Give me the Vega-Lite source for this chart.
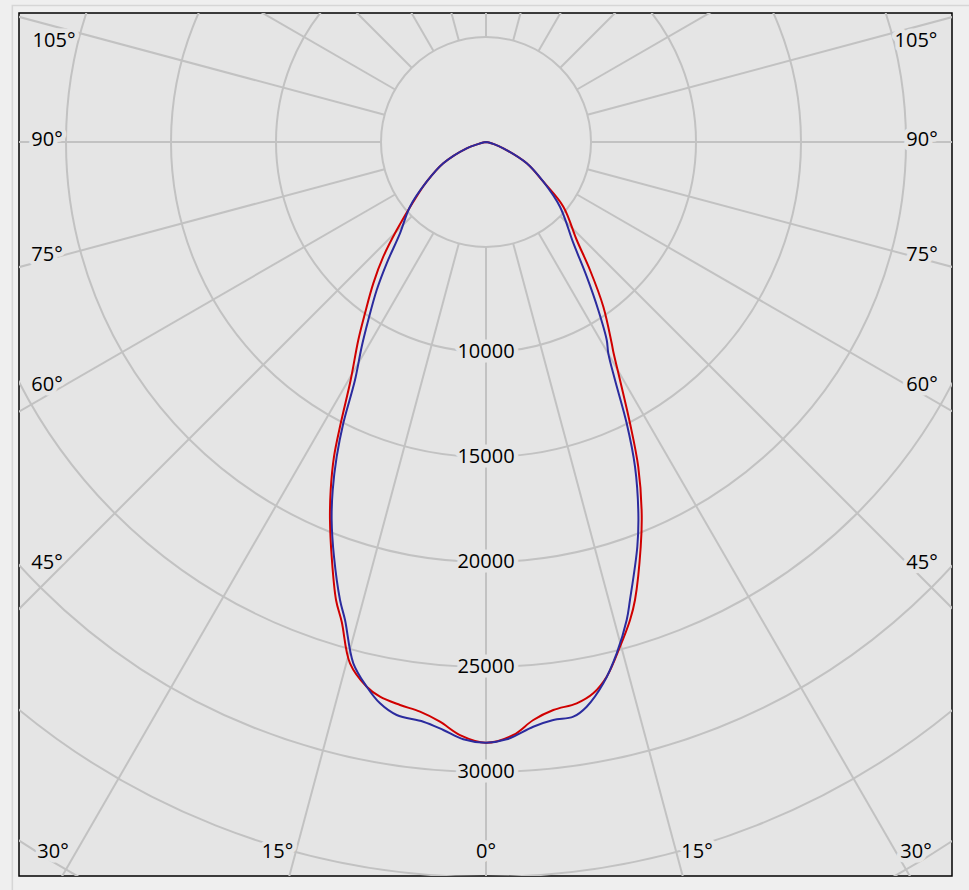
{
  "$schema": "https://vega.github.io/schema/vega-lite/v6.json",
  "width": 933,
  "height": 863,
  "autosize": {"type": "none"},
  "padding": {"left": 19, "top": 13, "right": 17, "bottom": 14},
  "background": "#efefef",
  "config": {"view": {"fill": "#e5e5e5", "stroke": "#000000", "strokeWidth": 1.5}},
  "datasets": {
    "frame": [{"fx": -22555, "fx2": 23500, "fy": 6500, "fy2": -36500}],
    "rings": [
      {"ring": 5000}, {"ring": 10000}, {"ring": 15000}, {"ring": 20000},
      {"ring": 25000}, {"ring": 30000}, {"ring": 35000}, {"ring": 40000}
    ],
    "spokes": [
      {"angle": 0}, {"angle": 15}, {"angle": 30}, {"angle": 45}, {"angle": 60}, {"angle": 75},
      {"angle": 90}, {"angle": 105}, {"angle": 120}, {"angle": 135}, {"angle": 150}, {"angle": 165},
      {"angle": 180}, {"angle": 195}, {"angle": 210}, {"angle": 225}, {"angle": 240}, {"angle": 255},
      {"angle": 270}, {"angle": 285}, {"angle": 300}, {"angle": 315}, {"angle": 330}, {"angle": 345}
    ],
    "anglelabels": [
      {"label": "105°", "lx": -20571, "ly": 4786},
      {"label": "105°", "lx": 20476, "ly": 4786},
      {"label": "90°", "lx": -20905, "ly": 95},
      {"label": "90°", "lx": 20762, "ly": 95},
      {"label": "75°", "lx": -20905, "ly": -5381},
      {"label": "75°", "lx": 20762, "ly": -5381},
      {"label": "60°", "lx": -20905, "ly": -11571},
      {"label": "60°", "lx": 20762, "ly": -11571},
      {"label": "45°", "lx": -20905, "ly": -20048},
      {"label": "45°", "lx": 20762, "ly": -20048},
      {"label": "30°", "lx": -20619, "ly": -33786},
      {"label": "30°", "lx": 20476, "ly": -33786},
      {"label": "15°", "lx": -9929, "ly": -33786},
      {"label": "15°", "lx": 10048, "ly": -33786},
      {"label": "0°", "lx": 0, "ly": -33786}
    ],
    "curves": [
      {"series": "C0-C180", "gamma": -90, "cd": 0},
      {"series": "C0-C180", "gamma": -80, "cd": 136},
      {"series": "C0-C180", "gamma": -75, "cd": 390},
      {"series": "C0-C180", "gamma": -71.9, "cd": 967},
      {"series": "C0-C180", "gamma": -63.5, "cd": 2272},
      {"series": "C0-C180", "gamma": -56.2, "cd": 3398},
      {"series": "C0-C180", "gamma": -50.6, "cd": 4480},
      {"series": "C0-C180", "gamma": -45.4, "cd": 5971},
      {"series": "C0-C180", "gamma": -41.84, "cd": 7332},
      {"series": "C0-C180", "gamma": -38.57, "cd": 8607},
      {"series": "C0-C180", "gamma": -35.24, "cd": 9987},
      {"series": "C0-C180", "gamma": -32.82, "cd": 11219},
      {"series": "C0-C180", "gamma": -29.62, "cd": 13037},
      {"series": "C0-C180", "gamma": -27.31, "cd": 15077},
      {"series": "C0-C180", "gamma": -25.78, "cd": 16642},
      {"series": "C0-C180", "gamma": -24.05, "cd": 18147},
      {"series": "C0-C180", "gamma": -22.43, "cd": 19473},
      {"series": "C0-C180", "gamma": -20.41, "cd": 21070},
      {"series": "C0-C180", "gamma": -18.13, "cd": 22949},
      {"series": "C0-C180", "gamma": -16.74, "cd": 23854},
      {"series": "C0-C180", "gamma": -14.62, "cd": 25654},
      {"series": "C0-C180", "gamma": -12.35, "cd": 26553},
      {"series": "C0-C180", "gamma": -10.82, "cd": 26893},
      {"series": "C0-C180", "gamma": -8.68, "cd": 27120},
      {"series": "C0-C180", "gamma": -6.61, "cd": 27310},
      {"series": "C0-C180", "gamma": -4.54, "cd": 27692},
      {"series": "C0-C180", "gamma": -2.51, "cd": 28267},
      {"series": "C0-C180", "gamma": 0, "cd": 28605},
      {"series": "C0-C180", "gamma": 2.64, "cd": 28267},
      {"series": "C0-C180", "gamma": 4.68, "cd": 27615},
      {"series": "C0-C180", "gamma": 6.76, "cd": 27238},
      {"series": "C0-C180", "gamma": 9.18, "cd": 27076},
      {"series": "C0-C180", "gamma": 11.01, "cd": 26744},
      {"series": "C0-C180", "gamma": 12.72, "cd": 26105},
      {"series": "C0-C180", "gamma": 14.87, "cd": 24867},
      {"series": "C0-C180", "gamma": 16.77, "cd": 23772},
      {"series": "C0-C180", "gamma": 18.02, "cd": 22934},
      {"series": "C0-C180", "gamma": 20.92, "cd": 20633},
      {"series": "C0-C180", "gamma": 22.75, "cd": 19172},
      {"series": "C0-C180", "gamma": 25.12, "cd": 17077},
      {"series": "C0-C180", "gamma": 27.11, "cd": 15048},
      {"series": "C0-C180", "gamma": 29.38, "cd": 13006},
      {"series": "C0-C180", "gamma": 31.26, "cd": 11682},
      {"series": "C0-C180", "gamma": 31.98, "cd": 11301},
      {"series": "C0-C180", "gamma": 35.47, "cd": 9629},
      {"series": "C0-C180", "gamma": 39.09, "cd": 7853},
      {"series": "C0-C180", "gamma": 42.79, "cd": 6359},
      {"series": "C0-C180", "gamma": 50.1, "cd": 4800},
      {"series": "C0-C180", "gamma": 55.3, "cd": 3320},
      {"series": "C0-C180", "gamma": 62.4, "cd": 2188},
      {"series": "C0-C180", "gamma": 70, "cd": 877},
      {"series": "C0-C180", "gamma": 75, "cd": 390},
      {"series": "C0-C180", "gamma": 80, "cd": 136},
      {"series": "C0-C180", "gamma": 90, "cd": 0},
      {"series": "C90-C270", "gamma": -90, "cd": 0},
      {"series": "C90-C270", "gamma": -80, "cd": 136},
      {"series": "C90-C270", "gamma": -75, "cd": 390},
      {"series": "C90-C270", "gamma": -71.9, "cd": 967},
      {"series": "C90-C270", "gamma": -63.5, "cd": 2272},
      {"series": "C90-C270", "gamma": -56.2, "cd": 3398},
      {"series": "C90-C270", "gamma": -49.6, "cd": 4753},
      {"series": "C90-C270", "gamma": -43.3, "cd": 5973},
      {"series": "C90-C270", "gamma": -39.3, "cd": 7465},
      {"series": "C90-C270", "gamma": -36.44, "cd": 8762},
      {"series": "C90-C270", "gamma": -33.47, "cd": 10162},
      {"series": "C90-C270", "gamma": -31.27, "cd": 11404},
      {"series": "C90-C270", "gamma": -28.83, "cd": 12937},
      {"series": "C90-C270", "gamma": -26.9, "cd": 15020},
      {"series": "C90-C270", "gamma": -25.38, "cd": 16587},
      {"series": "C90-C270", "gamma": -23.77, "cd": 18109},
      {"series": "C90-C270", "gamma": -22.21, "cd": 19443},
      {"series": "C90-C270", "gamma": -20.13, "cd": 21033},
      {"series": "C90-C270", "gamma": -17.68, "cd": 22890},
      {"series": "C90-C270", "gamma": -16.43, "cd": 23733},
      {"series": "C90-C270", "gamma": -14.28, "cd": 25615},
      {"series": "C90-C270", "gamma": -12.35, "cd": 26553},
      {"series": "C90-C270", "gamma": -10.69, "cd": 27201},
      {"series": "C90-C270", "gamma": -8.86, "cd": 27615},
      {"series": "C90-C270", "gamma": -6.17, "cd": 27766},
      {"series": "C90-C270", "gamma": -4.15, "cd": 28073},
      {"series": "C90-C270", "gamma": -2.18, "cd": 28462},
      {"series": "C90-C270", "gamma": 0, "cd": 28605},
      {"series": "C90-C270", "gamma": 1.98, "cd": 28460},
      {"series": "C90-C270", "gamma": 4.62, "cd": 27934},
      {"series": "C90-C270", "gamma": 6.64, "cd": 27710},
      {"series": "C90-C270", "gamma": 8.64, "cd": 27681},
      {"series": "C90-C270", "gamma": 10.11, "cd": 27314},
      {"series": "C90-C270", "gamma": 12.23, "cd": 26375},
      {"series": "C90-C270", "gamma": 14.34, "cd": 25130},
      {"series": "C90-C270", "gamma": 16.4, "cd": 23729},
      {"series": "C90-C270", "gamma": 17.45, "cd": 22862},
      {"series": "C90-C270", "gamma": 20.5, "cd": 20575},
      {"series": "C90-C270", "gamma": 22.31, "cd": 19110},
      {"series": "C90-C270", "gamma": 24.65, "cd": 17013},
      {"series": "C90-C270", "gamma": 26.57, "cd": 14977},
      {"series": "C90-C270", "gamma": 28.46, "cd": 12891},
      {"series": "C90-C270", "gamma": 30.06, "cd": 11626},
      {"series": "C90-C270", "gamma": 31.37, "cd": 11043},
      {"series": "C90-C270", "gamma": 33.75, "cd": 9623},
      {"series": "C90-C270", "gamma": 36.8, "cd": 8009},
      {"series": "C90-C270", "gamma": 40.8, "cd": 6368},
      {"series": "C90-C270", "gamma": 48.8, "cd": 4681},
      {"series": "C90-C270", "gamma": 55.3, "cd": 3320},
      {"series": "C90-C270", "gamma": 62.4, "cd": 2188},
      {"series": "C90-C270", "gamma": 70, "cd": 877},
      {"series": "C90-C270", "gamma": 75, "cd": 390},
      {"series": "C90-C270", "gamma": 80, "cd": 136},
      {"series": "C90-C270", "gamma": 90, "cd": 0}
    ]
  },
  "layer": [
    {
      "data": {"name": "frame"},
      "mark": {"type": "rect", "fill": null, "stroke": "#d6d6d6", "strokeWidth": 1.5, "clip": false},
      "encoding": {
        "x": {"field": "fx", "type": "quantitative", "scale": {"domain": [-22238.1, 22190.5], "nice": false, "zero": false}, "axis": null},
        "x2": {"field": "fx2"},
        "y": {"field": "fy", "type": "quantitative", "scale": {"domain": [-34952.4, 6142.9], "nice": false, "zero": false}, "axis": null},
        "y2": {"field": "fy2"}
      }
    },
    {
      "data": {"name": "rings"},
      "mark": {"type": "point", "shape": "circle", "filled": false, "clip": true, "opacity": 1, "stroke": "#c2c2c2", "strokeWidth": 2},
      "encoding": {
        "x": {"datum": 0, "type": "quantitative", "scale": {"domain": [-22238.1, 22190.5], "nice": false, "zero": false}, "axis": null},
        "y": {"datum": 0, "type": "quantitative", "scale": {"domain": [-34952.4, 6142.9], "nice": false, "zero": false}, "axis": null},
        "size": {"field": "ring", "type": "quantitative", "scale": {"type": "pow", "exponent": 2, "domain": [0, 40000], "range": [0, 2822400]}, "legend": null}
      }
    },
    {
      "data": {"name": "spokes"},
      "transform": [
        {"calculate": "5000 * sin(datum.angle * PI / 180)", "as": "sx"},
        {"calculate": "-5000 * cos(datum.angle * PI / 180)", "as": "sy"},
        {"calculate": "60000 * sin(datum.angle * PI / 180)", "as": "ex"},
        {"calculate": "-60000 * cos(datum.angle * PI / 180)", "as": "ey"}
      ],
      "mark": {"type": "rule", "clip": true, "color": "#c2c2c2", "strokeWidth": 2},
      "encoding": {
        "x": {"field": "sx", "type": "quantitative", "scale": {"domain": [-22238.1, 22190.5], "nice": false, "zero": false}, "axis": null},
        "y": {"field": "sy", "type": "quantitative", "scale": {"domain": [-34952.4, 6142.9], "nice": false, "zero": false}, "axis": null},
        "x2": {"field": "ex"},
        "y2": {"field": "ey"}
      }
    },
    {
      "data": {"name": "rings"},
      "transform": [
        {"filter": "datum.ring >= 10000 && datum.ring <= 30000"},
        {"calculate": "-datum.ring", "as": "ly"}
      ],
      "layer": [
        {"mark": {"type": "text", "font": "Open Sans", "fontSize": 20, "baseline": "middle", "align": "center", "stroke": "#e5e5e5", "strokeWidth": 9, "strokeJoin": "round"}},
        {"mark": {"type": "text", "font": "Open Sans", "fontSize": 20, "baseline": "middle", "align": "center", "color": "#000000"}}
      ],
      "encoding": {
        "x": {"datum": 0, "type": "quantitative", "scale": {"domain": [-22238.1, 22190.5], "nice": false, "zero": false}, "axis": null},
        "y": {"field": "ly", "type": "quantitative", "scale": {"domain": [-34952.4, 6142.9], "nice": false, "zero": false}, "axis": null},
        "text": {"field": "ring", "type": "nominal"}
      }
    },
    {
      "data": {"name": "anglelabels"},
      "layer": [
        {"mark": {"type": "text", "font": "Open Sans", "fontSize": 20, "baseline": "middle", "align": "center", "stroke": "#e5e5e5", "strokeWidth": 9, "strokeJoin": "round"}},
        {"mark": {"type": "text", "font": "Open Sans", "fontSize": 20, "baseline": "middle", "align": "center", "color": "#000000"}}
      ],
      "encoding": {
        "x": {"field": "lx", "type": "quantitative", "scale": {"domain": [-22238.1, 22190.5], "nice": false, "zero": false}, "axis": null},
        "y": {"field": "ly", "type": "quantitative", "scale": {"domain": [-34952.4, 6142.9], "nice": false, "zero": false}, "axis": null},
        "text": {"field": "label", "type": "nominal"}
      }
    },
    {
      "data": {"name": "curves"},
      "transform": [
        {"calculate": "datum.cd * sin(datum.gamma * PI / 180)", "as": "px"},
        {"calculate": "-datum.cd * cos(datum.gamma * PI / 180)", "as": "py"}
      ],
      "mark": {"type": "line", "strokeWidth": 2, "clip": true, "interpolate": "catmull-rom"},
      "encoding": {
        "x": {"field": "px", "type": "quantitative", "scale": {"domain": [-22238.1, 22190.5], "nice": false, "zero": false}, "axis": null},
        "y": {"field": "py", "type": "quantitative", "scale": {"domain": [-34952.4, 6142.9], "nice": false, "zero": false}, "axis": null},
        "order": {"field": "gamma", "type": "quantitative"},
        "color": {"field": "series", "type": "nominal", "scale": {"domain": ["C0-C180", "C90-C270"], "range": ["#d00000", "#2b2b9e"]}, "legend": null}
      }
    }
  ]
}
